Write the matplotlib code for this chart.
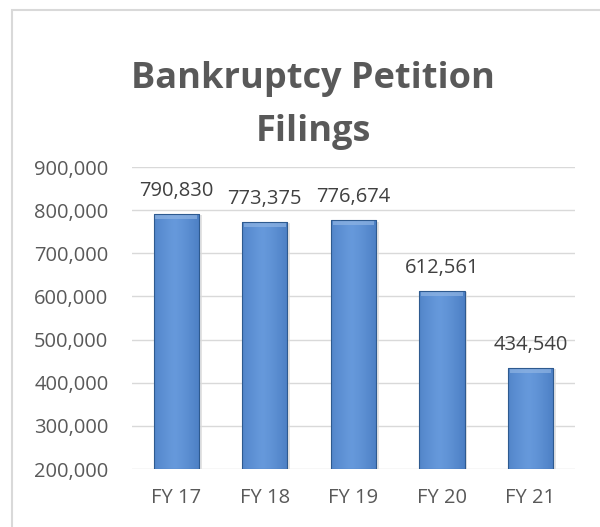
import numpy as np
import matplotlib
matplotlib.use("Agg")
import matplotlib.pyplot as plt
from matplotlib.patches import Rectangle
from matplotlib.ticker import FuncFormatter

# data
years = ["FY 17", "FY 18", "FY 19", "FY 20", "FY 21"]
filings = [790830, 773375, 776674, 612561, 434540]

plt.rcParams['font.family'] = ['Open Sans', 'DejaVu Sans']

fig = plt.figure(figsize=(6, 5.27), dpi=100)
ax = fig.add_axes([0.22, 0.110, 0.738, 0.573])

x = np.arange(len(years))
bars = ax.bar(x, filings, width=0.51, bottom=0, color="#4f81bd", zorder=2)

ax.set_ylim(200000, 900000)
ax.set_xlim(-0.5, len(years) - 0.5)
ax.set_yticks(np.arange(200000, 900001, 100000))
ax.yaxis.set_major_formatter(FuncFormatter(lambda v, p: f"{int(v):,}"))
ax.set_xticks(x)
ax.set_xticklabels(years)
ax.tick_params(length=0, labelsize=14.5, colors="#595959", pad=14)
ax.tick_params(axis="y", pad=17)
ax.grid(axis="y", color="#d9d9d9", lw=1, zorder=0)
for s in ax.spines.values():
    s.set_visible(False)

# cylinder-like shading
grad = np.linspace(0, 1, 64)
shade = 1 - 0.55 * np.abs(grad - 0.45) ** 1.3 * 2
dark = np.array([0.20, 0.40, 0.68])
light = np.array([0.40, 0.60, 0.86])
img = (dark[None, :] + (light - dark)[None, :] * shade[:, None])[None, :, :]
for b in bars:
    bx, by = b.get_x(), b.get_y()
    bw, bh = b.get_width(), b.get_height()
    b.set_visible(False)
    ax.add_patch(Rectangle((bx + 0.03, 200000), bw, bh - 200000 - 3000,
                           color="#c8c8c8", alpha=0.5, zorder=1, lw=0))
    im = ax.imshow(img, extent=[bx, bx + bw, 200000, bh], aspect="auto",
                   zorder=3, interpolation="bilinear")
    clip = Rectangle((bx, 200000), bw, bh - 200000, transform=ax.transData)
    im.set_clip_path(clip)
    # top bevel highlight
    ax.add_patch(Rectangle((bx + 0.02, bh - 12000), bw - 0.04, 10000,
                           color="#8fb4e3", alpha=0.7, zorder=4, lw=0))
    ax.add_patch(Rectangle((bx, 200000), bw, bh - 200000, fill=False,
                           ec="#2e5a8f", lw=0.8, zorder=5))
    ax.text(bx + bw / 2, bh + 30000, f"{int(bh):,}", ha="center", va="bottom",
            fontsize=14.5, color="#404040", zorder=6)

fig.text(0.522, 0.800, "Bankruptcy Petition\nFilings", ha="center", va="center",
         fontsize=26, fontweight="bold", color="#595959", linespacing=1.62)

# chart border
fig.patches.append(Rectangle((12 / 600, -0.1), 1.2, 1 - 9.5 / 527 + 0.1,
                             transform=fig.transFigure, fill=False,
                             ec="#d9d9d9", lw=1.5))

fig.savefig("out.png", dpi=100)
